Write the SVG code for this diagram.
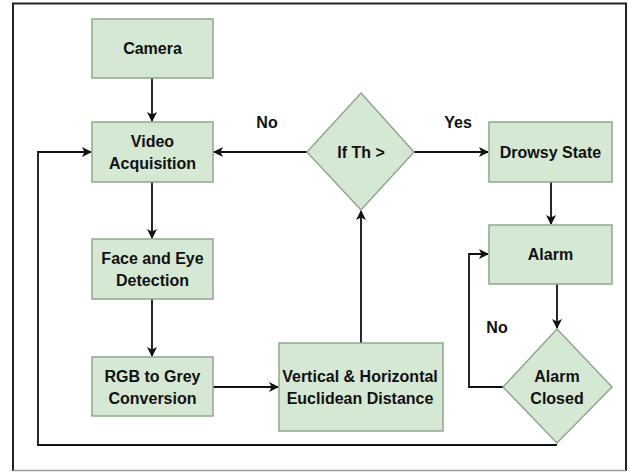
<svg xmlns="http://www.w3.org/2000/svg" width="629" height="473" viewBox="0 0 629 473">
<style>
.n{fill:#d5e8d4;stroke:#8fa88c;stroke-width:1.5}
.t{font-family:"Liberation Sans",Arial,sans-serif;font-weight:bold;font-size:16px;fill:#111;text-anchor:middle}
.c{fill:none;stroke:#111;stroke-width:1.8}
</style>
<defs>
<marker id="ah" viewBox="0 0 10 10" refX="9" refY="5" markerWidth="10" markerHeight="10" markerUnits="userSpaceOnUse" orient="auto">
<path d="M0,0 L10,5 L0,10 L2.5,5 Z" fill="#111"/>
</marker>
</defs>
<rect x="0" y="0" width="629" height="473" fill="#fff"/>
<path d="M13,471 L13,3.5 L626,3.5 L626,471" fill="none" stroke="#222" stroke-width="2"/>
<line x1="13" y1="470.5" x2="626" y2="470.5" stroke="#999" stroke-width="1.5"/>
<g id="connectors">
<line class="c" x1="152" y1="78" x2="152" y2="121" marker-end="url(#ah)"/>
<line class="c" x1="152" y1="182" x2="152" y2="238" marker-end="url(#ah)"/>
<line class="c" x1="152" y1="299" x2="152" y2="356" marker-end="url(#ah)"/>
<line class="c" x1="213" y1="387" x2="278" y2="387" marker-end="url(#ah)"/>
<line class="c" x1="361" y1="343" x2="361" y2="211" marker-end="url(#ah)"/>
<line class="c" x1="307" y1="152" x2="214" y2="152" marker-end="url(#ah)"/>
<line class="c" x1="414" y1="152" x2="488" y2="152" marker-end="url(#ah)"/>
<line class="c" x1="551" y1="182" x2="551" y2="224" marker-end="url(#ah)"/>
<line class="c" x1="557" y1="284" x2="557" y2="328" marker-end="url(#ah)"/>
<polyline class="c" points="503,387 469,387 469,254 488,254" marker-end="url(#ah)"/>
<polyline class="c" points="557,445 38,445 38,152 91,152" marker-end="url(#ah)"/>
<text class="t" x="267" y="128">No</text>
<text class="t" x="458" y="128">Yes</text>
<text class="t" x="497" y="333">No</text>
</g>
<g id="camera">
<rect class="n" x="92" y="19" width="121" height="59"/>
<text class="t" x="152.5" y="54">Camera</text>
</g>
<g id="video">
<rect class="n" x="92" y="122" width="121" height="60"/>
<text class="t" x="152.5" y="147">Video</text>
<text class="t" x="152.5" y="168.5">Acquisition</text>
</g>
<g id="face">
<rect class="n" x="92" y="239" width="121" height="60"/>
<text class="t" x="152.5" y="264">Face and Eye</text>
<text class="t" x="152.5" y="285.5">Detection</text>
</g>
<g id="rgb">
<rect class="n" x="92" y="357" width="121" height="59"/>
<text class="t" x="152.5" y="382">RGB to Grey</text>
<text class="t" x="152.5" y="403.5">Conversion</text>
</g>
<g id="distance">
<rect class="n" x="279" y="343" width="164" height="88"/>
<text class="t" x="360" y="382">Vertical &amp; Horizontal</text>
<text class="t" x="360" y="403.5">Euclidean Distance</text>
</g>
<g id="threshold">
<polygon class="n" points="361,93 414,152 361,210 307,152"/>
<text class="t" x="361" y="158">If Th &gt;</text>
</g>
<g id="drowsy">
<rect class="n" x="489" y="122" width="123" height="60"/>
<text class="t" x="550.5" y="158">Drowsy State</text>
</g>
<g id="alarm">
<rect class="n" x="489" y="225" width="123" height="59"/>
<text class="t" x="550.5" y="260">Alarm</text>
</g>
<g id="closed">
<polygon class="n" points="557,329 612,387 557,443 503,387"/>
<text class="t" x="557" y="382">Alarm</text>
<text class="t" x="557" y="403.5">Closed</text>
</g>
</svg>
